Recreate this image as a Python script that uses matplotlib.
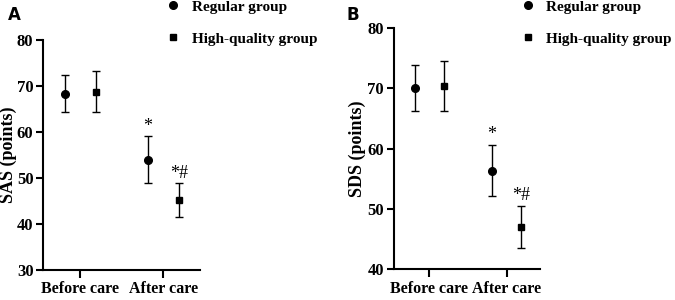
import matplotlib.pyplot as plt

plt.rcParams['font.family'] = ['Liberation Serif', 'DejaVu Serif']
plt.rcParams['font.weight'] = 'bold'

categories = ['Before care', 'After care']
groups = ['Regular group', 'High-quality group']

# SAS scores (mean, sd)
sas_regular = [68.3, 53.9]
sas_regular_err = [4.1, 5.1]
sas_high = [68.7, 45.1]
sas_high_err = [4.5, 3.7]

# SDS scores (mean, sd)
sds_regular = [70.1, 56.4]
sds_regular_err = [3.8, 4.2]
sds_high = [70.4, 47.0]
sds_high_err = [4.1, 3.5]

# significance marks
sig_regular = ['', '*']
sig_high = ['', '*#']

fig = plt.figure(figsize=(6.75, 3), dpi=100)
axA = fig.add_axes([0.064, 0.10, 0.232, 0.768])
axB = fig.add_axes([0.583, 0.102, 0.217, 0.804])


def draw(ax, reg, reg_err, high, high_err, ylabel, ylim, xlim, label_x, legend_pos):
    x = list(range(len(categories)))
    off = 0.19
    xr = [i - off for i in x]
    xh = [i + off for i in x]
    ax.errorbar(xr, reg, yerr=reg_err, fmt='o', color='black', ms=5.5,
                capsize=3, elinewidth=1, capthick=1, label=groups[0])
    ax.errorbar(xh, high, yerr=high_err, fmt='s', color='black', ms=5,
                capsize=3, elinewidth=1, capthick=1, label=groups[1])
    for xi, m, e, s in zip(xr, reg, reg_err, sig_regular):
        if s:
            ax.text(xi, m + e + 0.4, s, ha='center', va='bottom', fontsize=13,
                    fontweight='normal')
    for xi, m, e, s in zip(xh, high, high_err, sig_high):
        if s:
            ax.text(xi, m + e + 0.4, s, ha='center', va='bottom', fontsize=13,
                    fontweight='normal')
    ax.set_xlim(*xlim)
    ax.set_ylim(*ylim)
    ax.set_yticks(range(ylim[0], ylim[1] + 1, 10))
    ax.set_xticks(x)
    ax.set_xticklabels(categories, fontsize=11.5, fontweight='bold')
    ax.tick_params(axis='y', labelsize=12, width=1.5, length=5, pad=2)
    ax.tick_params(axis='x', width=1.5, length=6, pad=2)
    for lbl in ax.get_yticklabels():
        lbl.set_fontweight('bold')
    ax.set_ylabel(ylabel, fontsize=13, fontweight='bold')
    ax.yaxis.set_label_coords(label_x, 0.5)
    ax.spines['top'].set_visible(False)
    ax.spines['right'].set_visible(False)
    ax.spines['left'].set_linewidth(1.5)
    ax.spines['bottom'].set_linewidth(1.5)
    handles, labels = ax.get_legend_handles_labels()
    handles = [h[0] for h in handles]
    ax.legend(handles, labels, loc='upper left', bbox_to_anchor=legend_pos,
              bbox_transform=fig.transFigure, frameon=False, fontsize=11,
              handletextpad=0.6, labelspacing=1.2, handlelength=1.2,
              borderaxespad=0, borderpad=0)


draw(axA, sas_regular, sas_regular_err, sas_high, sas_high_err,
     'SAS (points)', (30, 80), (-0.45, 1.44), -0.17, (0.243, 1.0))
draw(axB, sds_regular, sds_regular_err, sds_high, sds_high_err,
     'SDS (points)', (40, 80), (-0.465, 1.43), -0.19, (0.768, 1.0))

fig.text(0.022, 0.95, 'A', fontsize=12, fontweight='bold',
         family='DejaVu Sans', ha='center', va='center')
fig.text(0.523, 0.95, 'B', fontsize=12, fontweight='bold',
         family='DejaVu Sans', ha='center', va='center')

fig.savefig('out.png', dpi=100)
